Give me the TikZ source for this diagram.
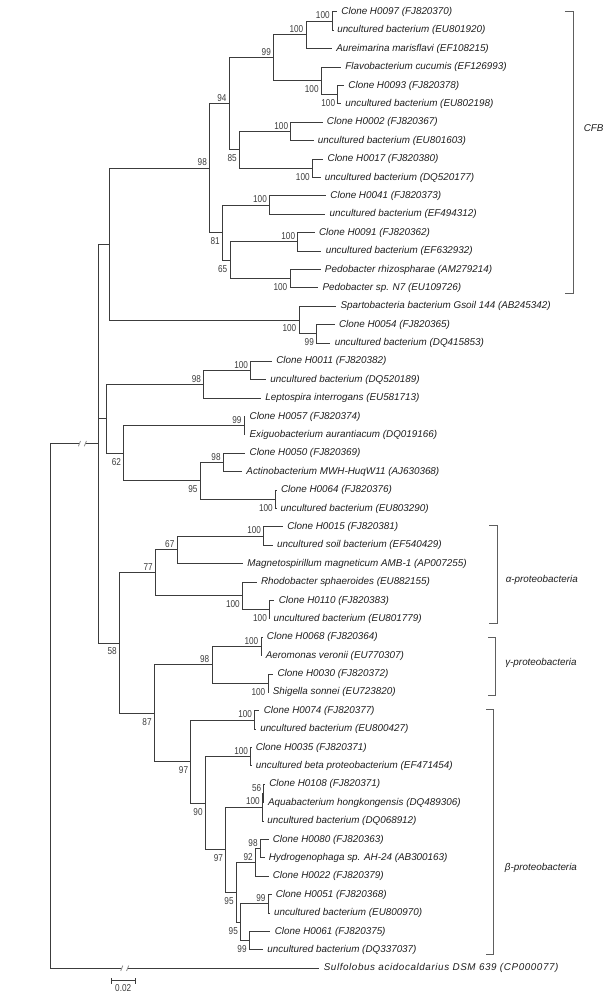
\documentclass[tikz,border=0pt]{standalone}
\usepackage{fontspec}
\setmainfont{Liberation Sans}
\newfontfamily\bsfamily[FakeStretch=0.82]{Liberation Sans}
\usepackage{tikz}
\definecolor{branchgray}{HTML}{3C3C3C}
\definecolor{bracketgray}{HTML}{5E5E5E}
\definecolor{breakgray}{HTML}{8C8C8C}
\definecolor{labelblack}{HTML}{1E1E1E}
\newcommand\taxfont{\fontsize{7.4pt}{8pt}\selectfont\itshape}
\newcommand\bsfont{\bsfamily\fontsize{7.5pt}{8pt}\selectfont}
\tikzset{
  branch/.style={draw=branchgray, line width=0.75pt},
  leaf/.style={anchor=west, inner xsep=3pt, inner ysep=1pt, font=\taxfont, text=labelblack},
  bsup/.style={anchor=south east, inner sep=0pt, xshift=-2pt, yshift=1.5pt, font=\bsfont, text=branchgray},
  bsdown/.style={anchor=north east, inner sep=0pt, xshift=-2pt, yshift=-3.5pt, font=\bsfont, text=branchgray},
  cladebar/.style={draw=bracketgray, line width=0.7pt},
  cladelab/.style={anchor=west, inner sep=0pt, font=\taxfont, text=labelblack},
  breakmark/.style={draw=breakgray, line width=0.6pt},
}

\begin{document}
\begin{tikzpicture}[x=0.75pt, y=-13.7925pt]
    \useasboundingbox (0,0.3475) rectangle (615,54.726);

    % leaves
    \node[leaf] (l1) at (337.2,1) {Clone H0097 (FJ820370)};
    \node[leaf] (l2) at (333,2) {uncultured bacterium (EU801920)};
    \node[leaf] (l3) at (332.1,3) {Aureimarina marisflavi (EF108215)};
    \node[leaf] (l4) at (341.1,4) {Flavobacterium cucumis (EF126993)};
    \node[leaf] (l5) at (344.2,5) {Clone H0093 (FJ820378)};
    \node[leaf] (l6) at (341.1,6) {uncultured bacterium (EU802198)};
    \node[leaf] (l7) at (322.7,7) {Clone H0002 (FJ820367)};
    \node[leaf] (l8) at (313.7,8) {uncultured bacterium (EU801603)};
    \node[leaf] (l9) at (323.4,9) {Clone H0017 (FJ820380)};
    \node[leaf] (l10) at (320.7,10) {uncultured bacterium (DQ520177)};
    \node[leaf] (l11) at (326.2,11) {Clone H0041 (FJ820373)};
    \node[leaf] (l12) at (325.4,12) {uncultured bacterium (EF494312)};
    \node[leaf] (l13) at (314.8,13) {Clone H0091 (FJ820362)};
    \node[leaf] (l14) at (321.5,14) {uncultured bacterium (EF632932)};
    \node[leaf] (l15) at (320.7,15) {Pedobacter rhizospharae (AM279214)};
    \node[leaf] (l16) at (318.4,16) {Pedobacter sp. N7 (EU109726)};
    \node[leaf] (l17) at (336.4,17) {Spartobacteria bacterium Gsoil 144 (AB245342)};
    \node[leaf] (l18) at (334.8,18) {Clone H0054 (FJ820365)};
    \node[leaf] (l19) at (330.5,19) {uncultured bacterium (DQ415853)};
    \node[leaf] (l20) at (272.1,20) {Clone H0011 (FJ820382)};
    \node[leaf] (l21) at (266.2,21) {uncultured bacterium (DQ520189)};
    \node[leaf] (l22) at (261.1,22) {Leptospira interrogans (EU581713)};
    \node[leaf] (l23) at (245.4,23) {Clone H0057 (FJ820374)};
    \node[leaf] (l24) at (245.4,24) {Exiguobacterium aurantiacum (DQ019166)};
    \node[leaf] (l25) at (245.4,25) {Clone H0050 (FJ820369)};
    \node[leaf] (l26) at (242.2,26) {Actinobacterium MWH-HuqW11 (AJ630368)};
    \node[leaf] (l27) at (276.8,27) {Clone H0064 (FJ820376)};
    \node[leaf] (l28) at (276.4,28) {uncultured bacterium (EU803290)};
    \node[leaf] (l29) at (283.1,29) {Clone H0015 (FJ820381)};
    \node[leaf] (l30) at (272.8,30) {uncultured soil bacterium (EF540429)};
    \node[leaf] (l31) at (243.1,31) {Magnetospirillum magneticum AMB-1 (AP007255)};
    \node[leaf] (l32) at (256.8,32) {Rhodobacter sphaeroides (EU882155)};
    \node[leaf] (l33) at (274.5,33) {Clone H0110 (FJ820383)};
    \node[leaf] (l34) at (269.3,34) {uncultured bacterium (EU801779)};
    \node[leaf] (l35) at (262.7,35) {Clone H0068 (FJ820364)};
    \node[leaf] (l36) at (261.5,36) {Aeromonas veronii (EU770307)};
    \node[leaf] (l37) at (273.3,37) {Clone H0030 (FJ820372)};
    \node[leaf] (l38) at (268.5,38) {Shigella sonnei (EU723820)};
    \node[leaf] (l39) at (259.5,39) {Clone H0074 (FJ820377)};
    \node[leaf] (l40) at (256,40) {uncultured bacterium (EU800427)};
    \node[leaf] (l41) at (251.6,41) {Clone H0035 (FJ820371)};
    \node[leaf] (l42) at (251.6,42) {uncultured beta proteobacterium (EF471454)};
    \node[leaf] (l43) at (265.1,43) {Clone H0108 (FJ820371)};
    \node[leaf] (l44) at (263.8,44) {Aquabacterium hongkongensis (DQ489306)};
    \node[leaf] (l45) at (263.1,45) {uncultured bacterium (DQ068912)};
    \node[leaf] (l46) at (268.6,46) {Clone H0080 (FJ820363)};
    \node[leaf] (l47) at (264.6,47) {Hydrogenophaga sp. AH-24 (AB300163)};
    \node[leaf] (l48) at (268.6,48) {Clone H0022 (FJ820379)};
    \node[leaf] (l49) at (271.6,49) {Clone H0051 (FJ820368)};
    \node[leaf] (l50) at (269.8,50) {uncultured bacterium (EU800970)};
    \node[leaf] (l51) at (270.5,51) {Clone H0061 (FJ820375)};
    \node[leaf] (l52) at (263.1,52) {uncultured bacterium (DQ337037)};
    \node[leaf] (l53) at (319.5,53) {\addfontfeature{LetterSpace=6}Sulfolobus acidocaldarius DSM 639 (CP000077)};

    % CFB group
    \coordinate (cfbA) at (332.6,1.5);   \node[bsup] (bcfbA) at (cfbA) {100};
    \coordinate (cfbB) at (306.2,2.25);  \node[bsup] (bcfbB) at (cfbB) {100};
    \coordinate (cfbE) at (338.0,5.5);   \node[bsdown] (bcfbE) at (cfbE) {100};
    \coordinate (cfbD) at (321.5,4.75);  \node[bsdown] (bcfbD) at (cfbD) {100};
    \coordinate (cfbC) at (273.8,3.5);   \node[bsup] (bcfbC) at (cfbC) {99};
    \coordinate (cfbG) at (291.0,7.5);   \node[bsup] (bcfbG) at (cfbG) {100};
    \coordinate (cfbH) at (312.6,9.5);   \node[bsdown] (bcfbH) at (cfbH) {100};
    \coordinate (cfbF) at (239.6,8.5);   \node[bsdown] (bcfbF) at (cfbF) {85};
    \coordinate (cfbN) at (229.4,6);     \node[bsup] (bcfbN) at (cfbN) {94};
    \coordinate (cfbI) at (269.8,11.5);  \node[bsup] (bcfbI) at (cfbI) {100};
    \coordinate (cfbJ) at (298.0,13.5);  \node[bsup] (bcfbJ) at (cfbJ) {100};
    \coordinate (cfbK) at (290.2,15.5);  \node[bsdown] (bcfbK) at (cfbK) {100};
    \coordinate (cfbL) at (230.2,14.5);  \node[bsdown] (bcfbL) at (cfbL) {65};
    \coordinate (cfbM) at (222.7,13);    \node[bsdown] (bcfbM) at (cfbM) {81};
    \coordinate (cfbR) at (209.8,9.5);   \node[bsup] (bcfbR) at (cfbR) {98};
    \coordinate (spaB) at (316.8,18.5);  \node[bsdown] (bspaB) at (spaB) {99};
    \coordinate (spaA) at (299.2,17.75); \node[bsdown] (bspaA) at (spaA) {100};
    \coordinate (upper) at (109.8,13.625);
    \draw[branch] (cfbA) |- (l1.west) (cfbA) |- (l2.west);
    \draw[branch] (cfbB) |- (cfbA) (cfbB) |- (l3.west);
    \draw[branch] (cfbE) |- (l5.west) (cfbE) |- (l6.west);
    \draw[branch] (cfbD) |- (l4.west) (cfbD) |- (cfbE);
    \draw[branch] (cfbC) |- (cfbB) (cfbC) |- (cfbD);
    \draw[branch] (cfbG) |- (l7.west) (cfbG) |- (l8.west);
    \draw[branch] (cfbH) |- (l9.west) (cfbH) |- (l10.west);
    \draw[branch] (cfbF) |- (cfbG) (cfbF) |- (cfbH);
    \draw[branch] (cfbN) |- (cfbC) (cfbN) |- (cfbF);
    \draw[branch] (cfbI) |- (l11.west) (cfbI) |- (l12.west);
    \draw[branch] (cfbJ) |- (l13.west) (cfbJ) |- (l14.west);
    \draw[branch] (cfbK) |- (l15.west) (cfbK) |- (l16.west);
    \draw[branch] (cfbL) |- (cfbJ) (cfbL) |- (cfbK);
    \draw[branch] (cfbM) |- (cfbI) (cfbM) |- (cfbL);
    \draw[branch] (cfbR) |- (cfbN) (cfbR) |- (cfbM);
    \draw[branch] (spaB) |- (l18.west) (spaB) |- (l19.west);
    \draw[branch] (spaA) |- (l17.west) (spaA) |- (spaB);
    \draw[branch] (upper) |- (cfbR) (upper) |- (spaA);

    % middle group
    \coordinate (midA) at (250.9,20.5);  \node[bsup] (bmidA) at (midA) {100};
    \coordinate (midB) at (203.9,21.25); \node[bsup] (bmidB) at (midB) {98};
    \coordinate (midC) at (244.4,23.5);  \node[bsup] (bmidC) at (midC) {99};
    \coordinate (midD) at (223.5,25.5);  \node[bsup] (bmidD) at (midD) {98};
    \coordinate (midE) at (275.7,27.5);  \node[bsdown] (bmidE) at (midE) {100};
    \coordinate (midF) at (200.4,26.5);  \node[bsdown] (bmidF) at (midF) {95};
    \coordinate (midG) at (123.9,25);    \node[bsdown] (bmidG) at (midG) {62};
    \coordinate (middle) at (106.7,23.125);
    \draw[branch] (midA) |- (l20.west) (midA) |- (l21.west);
    \draw[branch] (midB) |- (midA) (midB) |- (l22.west);
    \draw[branch] (midC) |- (l23.west) (midC) |- (l24.west);
    \draw[branch] (midD) |- (l25.west) (midD) |- (l26.west);
    \draw[branch] (midE) |- (l27.west) (midE) |- (l28.west);
    \draw[branch] (midF) |- (midD) (midF) |- (midE);
    \draw[branch] (midG) |- (midC) (midG) |- (midF);
    \draw[branch] (middle) |- (midB) (middle) |- (midG);

    % alpha group
    \coordinate (alpA) at (263.9,29.5);  \node[bsup] (balpA) at (alpA) {100};
    \coordinate (alpB) at (177.3,30.25); \node[bsup] (balpB) at (alpB) {67};
    \coordinate (alpC) at (269.8,33.5);  \node[bsdown] (balpC) at (alpC) {100};
    \coordinate (alpD) at (242.7,32.75); \node[bsdown] (balpD) at (alpD) {100};
    \coordinate (alpE) at (155.6,31.5);  \node[bsup] (balpE) at (alpE) {77};
    \draw[branch] (alpA) |- (l29.west) (alpA) |- (l30.west);
    \draw[branch] (alpB) |- (alpA) (alpB) |- (l31.west);
    \draw[branch] (alpC) |- (l33.west) (alpC) |- (l34.west);
    \draw[branch] (alpD) |- (l32.west) (alpD) |- (alpC);
    \draw[branch] (alpE) |- (alpB) (alpE) |- (alpD);

    % gamma group
    \coordinate (gamA) at (261.2,35.5);  \node[bsup] (bgamA) at (gamA) {100};
    \coordinate (gamB) at (268.2,37.5);  \node[bsdown] (bgamB) at (gamB) {100};
    \coordinate (gamC) at (212.1,36.5);  \node[bsup] (bgamC) at (gamC) {98};
    \draw[branch] (gamA) |- (l35.west) (gamA) |- (l36.west);
    \draw[branch] (gamB) |- (l37.west) (gamB) |- (l38.west);
    \draw[branch] (gamC) |- (gamA) (gamC) |- (gamB);

    % beta group
    \coordinate (betA) at (254.9,39.5);  \node[bsup] (bbetA) at (betA) {100};
    \coordinate (betB) at (250.9,41.5);  \node[bsup] (bbetB) at (betB) {100};
    \coordinate (betC) at (263.5,43.5);  \node[bsup, xshift=0.5pt] (bbetC) at (betC) {56};
    \coordinate (betD) at (262.7,44.25); \node[bsup] (bbetD) at (betD) {100};
    \coordinate (betE) at (260.5,46.5);  \node[bsup] (bbetE) at (betE) {98};
    \coordinate (betF) at (255.7,47.25); \node[bsup] (bbetF) at (betF) {92};
    \coordinate (betG) at (268.4,49.5);  \node[bsup] (bbetG) at (betG) {99};
    \coordinate (betH) at (249.5,51.5);  \node[bsdown] (bbetH) at (betH) {99};
    \coordinate (betI) at (240.8,50.5);  \node[bsdown] (bbetI) at (betI) {95};
    \coordinate (betJ) at (236.5,48.875); \node[bsdown] (bbetJ) at (betJ) {95};
    \coordinate (betK) at (225.9,46.5625); \node[bsdown] (bbetK) at (betK) {97};
    \coordinate (betL) at (205.5,44.03125); \node[bsdown] (bbetL) at (betL) {90};
    \coordinate (betM) at (191.0,41.765625); \node[bsdown] (bbetM) at (betM) {97};
    \draw[branch] (betA) |- (l39.west) (betA) |- (l40.west);
    \draw[branch] (betB) |- (l41.west) (betB) |- (l42.west);
    \draw[branch] (betC) |- (l43.west) (betC) |- (l44.west);
    \draw[branch] (betD) |- (betC) (betD) |- (l45.west);
    \draw[branch] (betE) |- (l46.west) (betE) |- (l47.west);
    \draw[branch] (betF) |- (betE) (betF) |- (l48.west);
    \draw[branch] (betG) |- (l49.west) (betG) |- (l50.west);
    \draw[branch] (betH) |- (l51.west) (betH) |- (l52.west);
    \draw[branch] (betI) |- (betG) (betI) |- (betH);
    \draw[branch] (betJ) |- (betF) (betJ) |- (betI);
    \draw[branch] (betK) |- (betD) (betK) |- (betJ);
    \draw[branch] (betL) |- (betB) (betL) |- (betK);
    \draw[branch] (betM) |- (betA) (betM) |- (betL);

    % proteobacteria and root
    \coordinate (gambet) at (154.5,39.1328); \node[bsdown] (bgambet) at (gambet) {87};
    \coordinate (lower) at (119.6,35.3164);  \node[bsdown] (blower) at (lower) {58};
    \coordinate (top) at (99,24.4707);
    \coordinate (root) at (50.2,38.7354);
    \draw[branch] (gambet) |- (gamC) (gambet) |- (betM);
    \draw[branch] (lower) |- (alpE) (lower) |- (gambet);
    \draw[branch] (top) |- (upper) (top) |- (middle) (top) |- (lower);
    \draw[branch] (root) |- (top) (root) |- (l53.west);

    % broken branches
    \coordinate (brkT) at (82.4,24.4707);
    \coordinate (brkS) at (124.7,53);
    \fill[white] ([xshift=-2.2pt,yshift=-1pt]brkT) rectangle ([xshift=2.2pt,yshift=1pt]brkT);
    \draw[breakmark] ([xshift=-3pt,yshift=-2pt]brkT) -- ([xshift=-1.4pt,yshift=2pt]brkT);
    \draw[breakmark] ([xshift=1.4pt,yshift=-2pt]brkT) -- ([xshift=3pt,yshift=2pt]brkT);
    \fill[white] ([xshift=-2.2pt,yshift=-1pt]brkS) rectangle ([xshift=2.2pt,yshift=1pt]brkS);
    \draw[breakmark] ([xshift=-3pt,yshift=-2pt]brkS) -- ([xshift=-1.4pt,yshift=2pt]brkS);
    \draw[breakmark] ([xshift=1.4pt,yshift=-2pt]brkS) -- ([xshift=3pt,yshift=2pt]brkS);

    % clade brackets
    \draw[cladebar] (565,0.98) -- (573,0.98) -- (573,16.3) -- (565,16.3);
    \node[cladelab] (cfblab) at (583.5,7.32) {CFB};
    \draw[cladebar] (489.5,28.92) -- (497.3,28.92) -- (497.3,34.25) -- (489.5,34.25);
    \node[cladelab] (alplab) at (505.5,31.89) {α-proteobacteria};
    \draw[cladebar] (488.5,34.99) -- (495.8,34.99) -- (495.8,38.14) -- (488.5,38.14);
    \node[cladelab] (gamlab) at (505,36.38) {γ-proteobacteria};
    \draw[cladebar] (486.2,38.9) -- (493.3,38.9) -- (493.3,52.24) -- (486.2,52.24);
    \node[cladelab] (betlab) at (504.7,47.53) {β-proteobacteria};

    % scale bar
    \coordinate (sbL) at (111,53.675);
    \coordinate (sbR) at (135.3,53.675);
    \draw[branch, line width=0.7pt] (sbL) -- (sbR) ([yshift=-2.3pt]sbL) -- ([yshift=2.3pt]sbL) ([yshift=-2.3pt]sbR) -- ([yshift=2.3pt]sbR);
    \node[anchor=north, inner sep=0pt, yshift=-3pt, font=\bsfont, text=branchgray] (sblab) at (123.2,53.675) {0.02};
\end{tikzpicture}
\end{document}
